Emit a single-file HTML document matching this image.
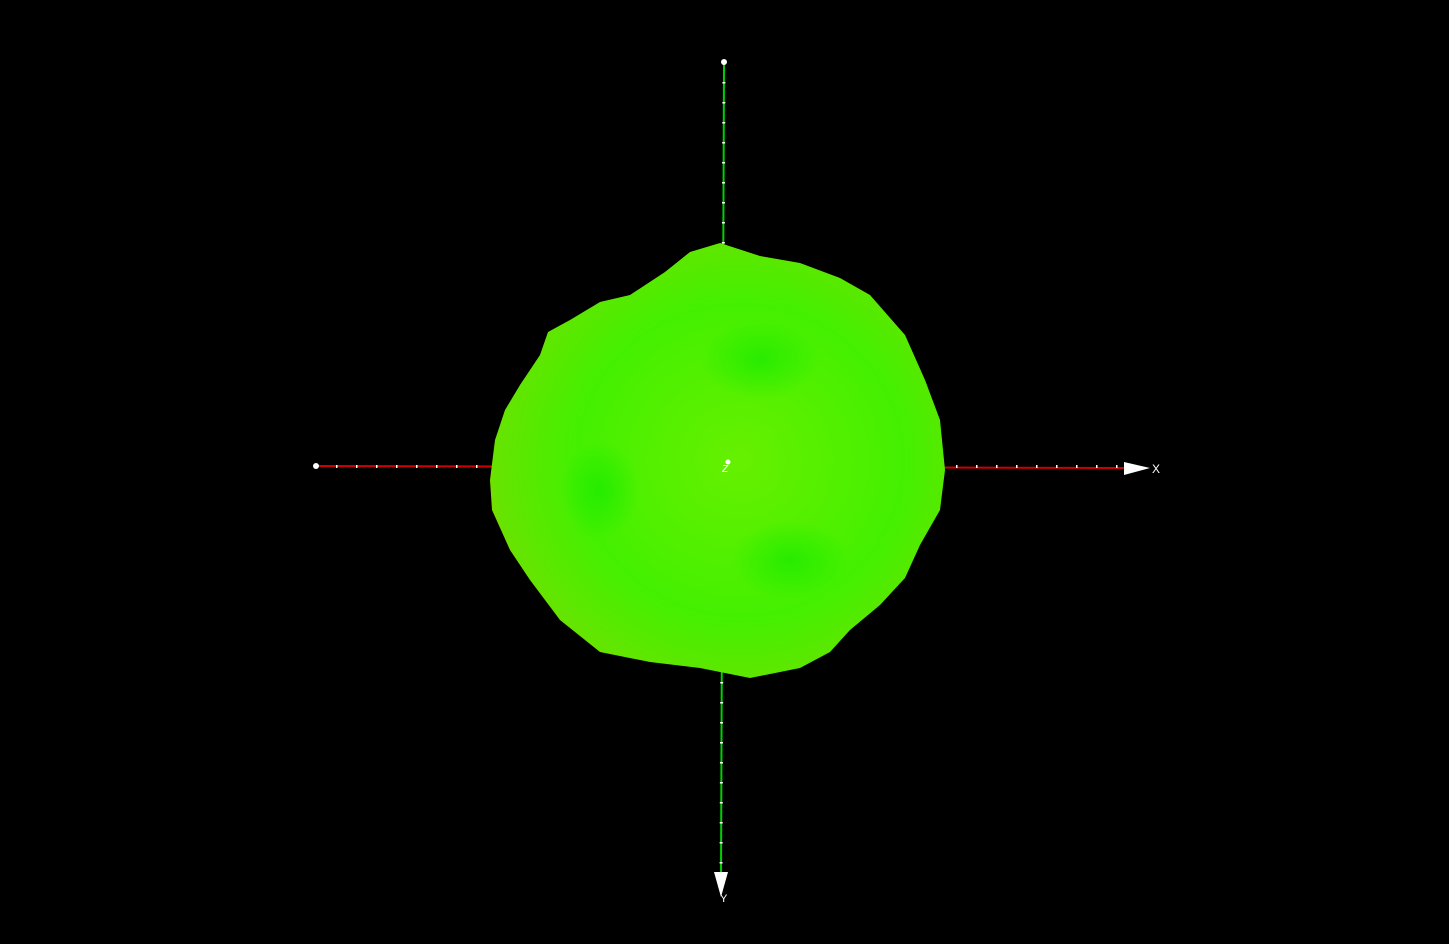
<!DOCTYPE html>
<html><head><meta charset="utf-8"><style>
html,body{margin:0;padding:0;background:#000;width:1449px;height:944px;overflow:hidden}
svg{display:block}
text{font-family:"Liberation Sans",sans-serif;fill:#fff}
</style></head><body>
<svg width="1449" height="944" viewBox="0 0 1449 944">
<defs>
<radialGradient id="g" cx="0.55" cy="0.5" r="0.6">
<stop offset="0" stop-color="#66f000"/>
<stop offset="0.6" stop-color="#44f000"/>
<stop offset="0.9" stop-color="#66e400"/>
<stop offset="1" stop-color="#a8c800"/>
</radialGradient>
<radialGradient id="h" cx="0.5" cy="0.5" r="0.5">
<stop offset="0" stop-color="#00e800" stop-opacity="0.5"/>
<stop offset="1" stop-color="#00e800" stop-opacity="0"/>
</radialGradient>
</defs>
<g>
<line x1="316" y1="466" x2="1130" y2="468" stroke="#d00000" stroke-width="2"/>
<g id="xt"></g>
<circle cx="316" cy="466" r="3" fill="#fff"/>
<polygon points="1124,462 1150,468 1124,475" fill="#fff"/>
<text x="1152" y="473" font-size="12">X</text>
</g>
<g>
<line x1="724" y1="62" x2="721" y2="878" stroke="#00d000" stroke-width="2"/>
<g id="yt"></g>
<circle cx="724" cy="62" r="3" fill="#fff"/>
<polygon points="714,872 728,872 721,897" fill="#fff"/>
<text x="720" y="902" font-size="11">Y</text>
</g>
<g>
<polygon fill="url(#g)" points="720,243 690,252 665,272 630,295 600,302 570,320 548,332 540,355 520,385 505,410 495,440 490,480 492,510 510,550 530,580 560,620 600,652 650,662 700,668 750,678 800,668 830,652 850,630 880,605 905,578 920,545 940,510 945,470 940,420 925,380 905,335 870,295 840,278 800,263 760,256"/>
<ellipse cx="600" cy="490" rx="40" ry="50" fill="url(#h)"/>
<ellipse cx="760" cy="360" rx="60" ry="40" fill="url(#h)"/>
<ellipse cx="790" cy="560" rx="60" ry="40" fill="url(#h)"/>
</g>
<text x="722" y="472" font-size="13" font-style="italic">z</text>
<circle cx="728" cy="462" r="2.5" fill="#fff"/>
</svg>
<script>
var xt=document.getElementById('xt'),yt=document.getElementById('yt');
for(var x=336;x<1125;x+=20){var r=document.createElementNS('http://www.w3.org/2000/svg','rect');r.setAttribute('x',x);r.setAttribute('y',465);r.setAttribute('width',1.5);r.setAttribute('height',3);r.setAttribute('fill','#fff');


xt.appendChild(r);}
for(var y=82;y<870;y+=20){var r2=document.createElementNS('http://www.w3.org/2000/svg','rect');var xx=724-3*(y-62)/816;r2.setAttribute('x',xx-1.5);r2.setAttribute('y',y);r2.setAttribute('width',3);r2.setAttribute('height',1.5);r2.setAttribute('fill','#fff');


yt.appendChild(r2);}
</script>
</body></html>
